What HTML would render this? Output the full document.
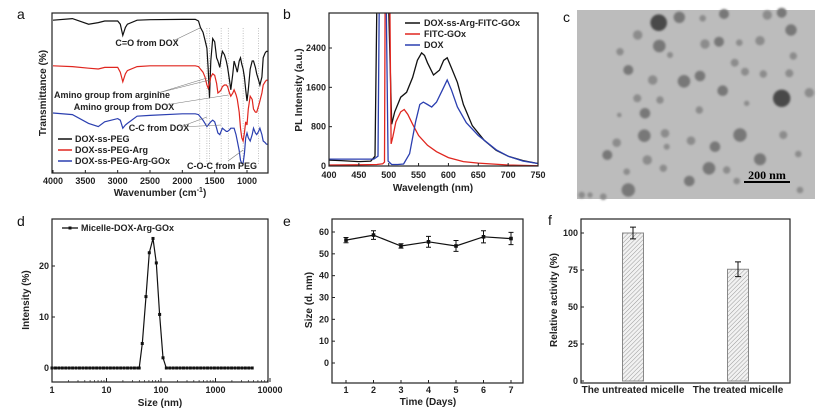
<!DOCTYPE html>
<html><head><meta charset="utf-8">
<style>
html,body{margin:0;padding:0;background:#fff;}
svg{display:block;font-family:"Liberation Sans",Arial,sans-serif;}
.t{font-size:9px;font-weight:bold;fill:#222;}
.at{font-size:10px;font-weight:bold;fill:#222;}
.lt{font-size:14px;fill:#111;}
</style></head>
<body>
<svg id="fig" width="825" height="417" viewBox="0 0 825 417" xmlns="http://www.w3.org/2000/svg">
<defs>
<clipPath id="clipA"><rect x="52" y="13" width="216" height="160"/></clipPath>
<clipPath id="clipB"><rect x="329" y="13" width="209" height="153"/></clipPath>
<pattern id="hatch" width="3" height="3" patternUnits="userSpaceOnUse" patternTransform="rotate(45)">
<rect width="3" height="3" fill="#f2f2f2"/><line x1="0" y1="0" x2="0" y2="3" stroke="#9a9a9a" stroke-width="1"/></pattern>
<filter id="blur"><feGaussianBlur stdDeviation="1.1"/></filter>
</defs>
<rect width="825" height="417" fill="#fff"/>
</svg>
<script>
// ---- Panel a data (FTIR) ----
var ftirWave = [4000,3700,3450,3300,3200,3000,2960,2920,2880,2850,2700,2500,2000,1800,1750,1720,1680,1650,1620,1600,1580,1560,1530,1500,1470,1450,1420,1400,1380,1350,1320,1300,1270,1250,1220,1200,1170,1150,1120,1100,1080,1060,1040,1020,1000,980,950,920,900,870,850,820,800,770,750,720,700,680];
var ftirPEG = [95.5,96.5,93,94,95,95,93,86,91,93,95.5,95.8,96,96,95,91,88,83,78,65,47,70,84,82,72,70,66,72,76,74,70,66,58,52,62,70,66,63,70,72,68,65,60,52,45,52,65,70,70,66,62,58,55,60,72,75,76,76];
var ftirArg = [67,66.5,65.5,65,66,66,63,57,62,64,66.5,67,67,67,66.5,65,63,60,55,53,56,60,62,61,56,50,51,52,54,55,55,54,50,48,50,52,49,46,38,28,22,20,25,32,30,40,48,46,40,38,38,42,45,50,55,57,58,58];
var ftirGOx = [37.5,36.5,31,29,32,34,33,28,30,31,35.5,36,37,37,36.5,35,33,31,29,30,31,32,33,32,28,25,24,26,28,27,26,26,27,28,28,28,24,20,14,8,6,6,12,22,25,22,20,24,28,25,24,26,28,24,20,19,18,18];
// ---- Panel b data (PL) ----
var plWlBlack = [400,420,450,470,477,480,482,500,505,510,520,530,540,548,555,560,565,575,585,592,598,605,615,625,640,660,680,700,725,750];
var plBlack = [120,110,90,100,200,3200,3200,3200,850,1100,1400,1500,1800,2150,2300,2250,2100,1850,1950,2150,2200,2000,1700,1250,820,520,320,200,110,50];
var plWlRed = [400,450,480,490,493,494,502,504,507,512,520,526,532,540,550,565,580,600,625,650,700,750];
var plRed = [20,25,30,45,80,3200,3200,450,600,900,1100,1150,1050,850,620,420,290,170,90,60,20,5];
var plWlBlue = [400,450,475,482,484,496,499,505,515,525,535,545,552,558,565,572,580,590,598,605,615,630,650,680,700,725,750];
var plBlue = [140,140,140,200,3200,3200,100,30,30,40,250,900,1250,1300,1250,1200,1300,1550,1750,1550,1200,880,620,330,200,100,50];
// ---- Panel d data (DLS) ----
var dlsLogSize = [0,0.063,0.126,0.189,0.252,0.315,0.378,0.441,0.504,0.567,0.63,0.693,0.756,0.819,0.882,0.945,1.008,1.071,1.134,1.197,1.26,1.323,1.386,1.449,1.512,1.575,1.6,1.656,1.724,1.785,1.853,1.914,1.975,2.037,2.098,2.161,2.224,2.287,2.35,2.413,2.476,2.539,2.602,2.665,2.728,2.791,2.854,2.917,2.98,3.043,3.106,3.169,3.232,3.295,3.358,3.421,3.484,3.547,3.61,3.673];
var dlsIntensity = [0,0,0,0,0,0,0,0,0,0,0,0,0,0,0,0,0,0,0,0,0,0,0,0,0,0,0,4.8,14,22.6,25.4,20.6,10.5,2,0,0,0,0,0,0,0,0,0,0,0,0,0,0,0,0,0,0,0,0,0,0,0,0,0,0];
// ---- Panel e data ----
var days = [1,2,3,4,5,6,7];
var sizeNm = [56.3,58.6,53.6,55.5,53.6,57.8,57];
var sizeErr = [1.2,2,1,2.5,2.5,2.8,2.8];
// ---- Panel f data ----
var actCats = ["The untreated micelle","The treated micelle"];
var actVals = [100,75.5];
var actErr = [4,5];
// ---- Panel c particles (x,y,r) ----
var tem = [[296,68,25],[358,52,17],[428,55,10],[492,42,15],[622,45,14],[665,38,15],[693,90,17],[233,105,14],[298,138,19],[435,132,14],[477,125,15],[538,128,10],[600,122,14],[180,155,11],[330,165,9],[700,168,11],[205,210,15],[524,188,12],[555,215,12],[610,222,11],[688,220,12],[278,240,14],[372,244,19],[420,228,16],[488,272,16],[665,295,26],[748,278,14],[232,295,12],[300,300,11],[560,310,8],[255,340,16],[418,330,11],[178,345,7],[253,407,19],[315,400,13],[540,405,20],[670,405,12],[170,428,13],[320,440,9],[393,422,13],[465,440,16],[142,465,15],[262,480,14],[600,478,18],[715,462,10],[310,505,11],[447,505,19],[200,515,10],[500,510,11],[388,543,16],[530,543,10],[205,570,20],[65,585,10],[90,585,8],[130,590,10],[720,570,10]];

var svg = document.getElementById('fig');
var NS = 'http://www.w3.org/2000/svg';
function mk(tag, attrs, parent){var e=document.createElementNS(NS,tag);for(var k in attrs)e.setAttribute(k,attrs[k]);(parent||svg).appendChild(e);return e;}
function lin(d0,d1,r0,r1){return function(v){return r0+(v-d0)*(r1-r0)/(d1-d0);};}
function txt(x,y,s,cls,anchor,parent){var t=mk('text',{x:x,y:y,'class':cls,'text-anchor':anchor||'start'},parent);t.textContent=s;return t;}
function box(x,y,w,h){var r=mk('rect',{x:x,y:y,width:w,height:h,fill:'none',stroke:'#222','stroke-width':1.2});return r;}
function pathOf(xs,ys,fx,fy){var d='';for(var i=0;i<xs.length;i++){d+=(i?'L':'M')+fx(xs[i]).toFixed(1)+','+fy(ys[i]).toFixed(1);}return d;}

// ================= Panel a =================
var la=txt(17,19,'a','lt');


var ax=lin(4000,1000,53,247), ay=lin(0,100,173,13);
[1730,1620,1580,1400,1290,1060,820].forEach(function(w){
  var l=mk('line',{x1:ax(w),x2:ax(w),y1:28,y2:165,stroke:'#999','stroke-width':0.6,'stroke-dasharray':'1,1.5'});
  
  
});
var ftirSeries=[[ftirPEG,'#111','ftir-dox-ss-peg'],[ftirArg,'#e0261f','ftir-dox-ss-peg-arg'],[ftirGOx,'#2b3fb0','ftir-dox-ss-peg-arg-gox']];
ftirSeries.forEach(function(s){
  var p=mk('path',{d:pathOf(ftirWave,s[0],ax,ay),fill:'none',stroke:s[1],'stroke-width':1.2,'clip-path':'url(#clipA)'});
  
  
});
var ba=box(52,13,216,160);


[4000,3500,3000,2500,2000,1500,1000].forEach(function(w){
  mk('line',{x1:ax(w),x2:ax(w),y1:173,y2:170,stroke:'#222'});
  var t=txt(ax(w),184,String(w),'t','middle');
  
  
});
var xta=txt(160,196,'Wavenumber (cm','at','middle');


var sup=mk('tspan',{dy:-4,'font-size':7},xta);sup.textContent='-1';
var sup2=mk('tspan',{dy:4},xta);sup2.textContent=')';
var yta=txt(0,0,'Transmittance (%)','at','middle');
yta.setAttribute('transform','translate(46,93) rotate(-90)');


var ann=[['C=O from DOX',147,46],['Amino group from arginine',112,98],['Amino group from DOX',124,110],['C-C from DOX',159,131],['C-O-C from PEG',222,169]];
ann.forEach(function(a){
  var t=txt(a[1],a[2],a[0],'t','middle');
  
  
});
[[175,40,ax(1730),28],[158,93,ax(1620),78],[158,93,ax(1580),80],[165,105,ax(1290),95],[180,127,ax(1620),117],[180,127,ax(1400),125],[228,161,ax(1060),150]].forEach(function(l){
  var e=mk('line',{x1:l[0],y1:l[1],x2:l[2],y2:l[3],stroke:'#777','stroke-width':0.6});
  
  
});
[['DOX-ss-PEG','#111',142],['DOX-ss-PEG-Arg','#e0261f',153],['DOX-ss-PEG-Arg-GOx','#2b3fb0',164]].forEach(function(l){
  var g=mk('g',{});
  
  
  mk('line',{x1:58,x2:72,y1:l[2]-3,y2:l[2]-3,stroke:l[1],'stroke-width':1.5},g);
  txt(75,l[2],l[0],'t','start',g);
});

// ================= Panel b =================
var lb=txt(283,19,'b','lt');


var bx=lin(400,750,329,538), by=lin(0,2400,166,48);
var plSeries=[[plWlBlack,plBlack,'#111','pl-dox-ss-arg-fitc-gox'],[plWlRed,plRed,'#e0261f','pl-fitc-gox'],[plWlBlue,plBlue,'#2b3fb0','pl-dox']];
plSeries.forEach(function(s){
  var p=mk('path',{d:pathOf(s[0],s[1],bx,by),fill:'none',stroke:s[2],'stroke-width':1.3,'clip-path':'url(#clipB)'});
  
  
});
var bb=box(329,13,209,153);


[400,450,500,550,600,650,700,750].forEach(function(w){
  mk('line',{x1:bx(w),x2:bx(w),y1:166,y2:163,stroke:'#222'});
  var t=txt(bx(w),178,String(w),'t','middle');
  
  
});
[0,800,1600,2400].forEach(function(v){
  mk('line',{x1:329,x2:332,y1:by(v),y2:by(v),stroke:'#222'});
  var t=txt(326,by(v)+3,String(v),'t','end');
  
  
});
var xtb=txt(433,191,'Wavelength (nm)','at','middle');


var ytb=txt(0,0,'PL Intensity (a.u.)','at','middle');
ytb.setAttribute('transform','translate(302,90) rotate(-90)');


[['DOX-ss-Arg-FITC-GOx','#111',26],['FITC-GOx','#e0261f',37],['DOX','#2b3fb0',48]].forEach(function(l){
  var g=mk('g',{});
  
  
  mk('line',{x1:405,x2:420,y1:l[2]-3,y2:l[2]-3,stroke:l[1],'stroke-width':1.5},g);
  txt(424,l[2],l[0],'t','start',g);
});

// ================= Panel c (TEM) =================
var lc=txt(563,22,'c','lt');


var img=mk('rect',{x:577,y:10,width:238,height:189,fill:'#bcbcbc'});


var pg=mk('g',{filter:'url(#blur)'});
tem.forEach(function(p){
  var c=mk('circle',{cx:(p[0]/3+560).toFixed(1),cy:(p[1]/3).toFixed(1),r:(p[2]/3).toFixed(1),fill:p[2]>22?'#4a4a4a':(p[2]>14?'#787878':'#8c8c8c')},pg);
  
  
});
var sb=mk('line',{x1:744,x2:790,y1:182,y2:182,stroke:'#000','stroke-width':2});


var sbt=mk('text',{x:767,y:179,'text-anchor':'middle','font-family':'Liberation Serif,serif','font-size':12,'font-weight':'bold',fill:'#000'});
sbt.textContent='200 nm';



// ================= Panel d =================
var ld=txt(17,226,'d','lt');


var dx=lin(0,4,52,270), dy=lin(0,20,368,266);
var bd=box(52,219,216,163);


var dp=mk('path',{d:pathOf(dlsLogSize,dlsIntensity,dx,dy),fill:'none',stroke:'#111','stroke-width':1.2});


dlsLogSize.forEach(function(v,i){
  var m=mk('rect',{x:dx(v)-1.5,y:dy(dlsIntensity[i])-1.5,width:3,height:3,fill:'#111'});
  
  
});
['1','10','100','1000','10000'].forEach(function(s,i){
  mk('line',{x1:dx(i),x2:dx(i),y1:382,y2:378,stroke:'#222'});
  var t=txt(dx(i),393,s,'t','middle');
  
  
});
for(var dd=0;dd<4;dd++){for(var k=2;k<10;k++){var xx=dx(dd+Math.log10(k));if(xx<268)mk('line',{x1:xx,x2:xx,y1:382,y2:380,stroke:'#222','stroke-width':0.7});}}
[0,10,20].forEach(function(v){
  mk('line',{x1:52,x2:55,y1:dy(v),y2:dy(v),stroke:'#222'});
  var t=txt(49,dy(v)+3,String(v),'t','end');
  
  
});
var xtd=txt(160,406,'Size (nm)','at','middle');


var ytd=txt(0,0,'Intensity (%)','at','middle');
ytd.setAttribute('transform','translate(29,300) rotate(-90)');


var lgd=mk('g',{});


mk('line',{x1:62,x2:78,y1:228,y2:228,stroke:'#111','stroke-width':1.3},lgd);
mk('rect',{x:68.5,y:226.5,width:3,height:3,fill:'#111'},lgd);
txt(81,231,'Micelle-DOX-Arg-GOx','t','start',lgd);

// ================= Panel e =================
var le=txt(283,226,'e','lt');


var ex=lin(1,7,346,511), ey=lin(0,60,363,232);
var be=box(332,219,191,164);


var ep=mk('path',{d:pathOf(days,sizeNm,ex,ey),fill:'none',stroke:'#111','stroke-width':1.2});


days.forEach(function(d,i){
  var x=ex(d),y1=ey(sizeNm[i]-sizeErr[i]),y2=ey(sizeNm[i]+sizeErr[i]);
  var eb=mk('path',{d:'M'+x+','+y1+'V'+y2+'M'+(x-2.5)+','+y1+'h5M'+(x-2.5)+','+y2+'h5',stroke:'#111','stroke-width':1,fill:'none'});
  
  
  var m=mk('rect',{x:x-1.8,y:ey(sizeNm[i])-1.8,width:3.6,height:3.6,fill:'#111'});
  
  
  mk('line',{x1:x,x2:x,y1:383,y2:380,stroke:'#222'});
  var t=txt(x,393,String(d),'t','middle');
  
  
});
[0,10,20,30,40,50,60].forEach(function(v){
  mk('line',{x1:332,x2:335,y1:ey(v),y2:ey(v),stroke:'#222'});
  var t=txt(329,ey(v)+3,String(v),'t','end');
  
  
});
var xte=txt(428,405,'Time (Days)','at','middle');


var yte=txt(0,0,'Size (d. nm)','at','middle');
yte.setAttribute('transform','translate(312,300) rotate(-90)');



// ================= Panel f =================
var lf=txt(548,225,'f','lt');


var fy=lin(0,100,381,233);
var fcx=[633,738];
actCats.forEach(function(c,i){
  var b=mk('rect',{x:fcx[i]-10.5,y:fy(actVals[i]),width:21,height:fy(0)-fy(actVals[i]),fill:'url(#hatch)',stroke:'#888','stroke-width':1});
  
  
  var x=fcx[i],y1=fy(actVals[i]-actErr[i]),y2=fy(actVals[i]+actErr[i]);
  var eb=mk('path',{d:'M'+x+','+y1+'V'+y2+'M'+(x-3)+','+y1+'h6M'+(x-3)+','+y2+'h6',stroke:'#111','stroke-width':1,fill:'none'});
  
  
  var t=txt(x,393,c,'at','middle');
  
  
});
var bf=box(581,219,209,164);


[0,25,50,75,100].forEach(function(v){
  mk('line',{x1:581,x2:584,y1:fy(v),y2:fy(v),stroke:'#222'});
  var t=txt(578,fy(v)+3,String(v),'t','end');
  
  
});
var ytf=txt(0,0,'Relative activity (%)','at','middle');
ytf.setAttribute('transform','translate(557,300) rotate(-90)');


</script>
</body></html>
